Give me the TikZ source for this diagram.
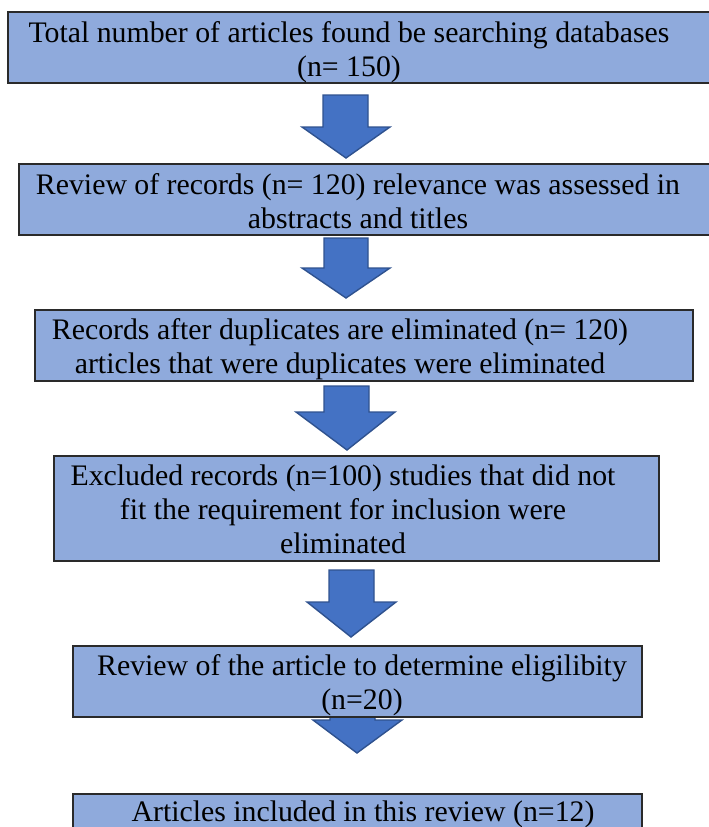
\documentclass[tikz,border=0pt]{standalone}
\usepackage{fontspec}
\setmainfont{Liberation Serif}
\definecolor{boxfill}{HTML}{8FAADC}
\definecolor{boxline}{HTML}{2A2A2A}
\definecolor{arrfill}{HTML}{4472C4}
\definecolor{arrline}{HTML}{2F528F}
\tikzset{
  flowbox/.style={draw=boxline, fill=boxfill, line width=1.1pt},
  blockarrow/.style={draw=arrline, fill=arrfill, line width=1.4pt, line join=miter},
  boxtext/.style={align=center, inner sep=0pt, font=\fontsize{29.8}{34}\selectfont},
}
\newcommand{\blkarrow}[8]{% sl sr top shoulder hl hr tipx tipy
  \draw[blockarrow] (#1,#3) -- (#2,#3) -- (#2,#4) -- (#6,#4) -- (#7,#8) -- (#5,#4) -- (#1,#4) -- cycle;}
\begin{document}
\begin{tikzpicture}[x=1pt,y=-1pt]
\useasboundingbox (0,0) rectangle (709,827);
% block arrows (drawn first, boxes cover them)
\blkarrow{323}{368}{95}{127}{302}{390}{346}{158}
\blkarrow{324}{368}{238}{268}{302}{390}{346}{298}
\blkarrow{324}{369}{386}{412}{296}{395}{347}{450}
\blkarrow{329}{374}{570}{602}{307}{396}{351}{637}
\blkarrow{330}{375}{700}{720}{313}{402}{357}{753}
% boxes
\path[flowbox] (8,12) rectangle (715,83) coordinate (b1);
\path[flowbox] (19,164) rectangle (715,235) coordinate (b2);
\path[flowbox] (35,310) rectangle (693,381) coordinate (b3);
\path[flowbox] (54,456) rectangle (659,561) coordinate (b4);
\path[flowbox] (73,646) rectangle (642,717) coordinate (b5);
\path[flowbox] (73,794) rectangle (642,845) coordinate (b6);
% texts
\node[boxtext] (t1) at (349,53) {\strut Total number of articles found be searching databases\\\strut (n= 150)};
\node[boxtext] (t2) at (358,204.5) {\strut Review of records (n= 120) relevance was assessed in\\\strut abstracts and titles};
\node[boxtext] (t3) at (340,350) {\strut Records after duplicates are eliminated (n= 120)\\\strut articles that were duplicates were eliminated};
\node[boxtext] (t4) at (343,513) {\strut Excluded records (n=100) studies that did not\\\strut fit the requirement for inclusion were\\\strut eliminated};
\node[boxtext] (t5) at (362,686) {\strut Review of the article to determine eligilibity\\\strut (n=20)};
\node[boxtext] (t6) at (363,815) {\strut Articles included in this review (n=12)};
\end{tikzpicture}
\end{document}
